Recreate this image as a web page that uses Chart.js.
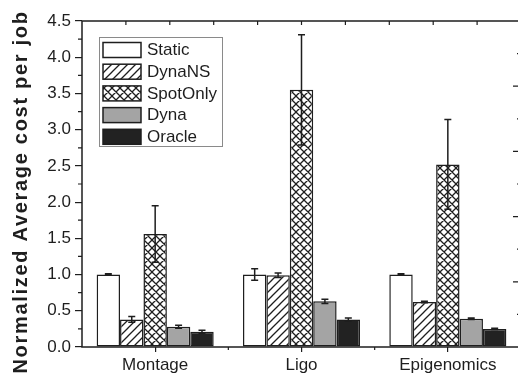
<!DOCTYPE html>
<html>
<head>
<meta charset="utf-8">
<script src="https://cdn.jsdelivr.net/npm/chart.js@4.4.1/dist/chart.umd.min.js"></script>
<style>
    html, body { margin: 0; padding: 0; background: #fff; overflow: hidden; }
    #wrap { width: 524px; height: 379px; position: relative; }
</style>
</head>
<body>
<div id="wrap"><canvas id="costChart"></canvas></div>
<script>
// Workflows and normalized cost values
const categories = ['Montage', 'Ligo', 'Epigenomics'];
const staticCost = [1.0, 1.0, 1.0];
const staticErr = [0.01, 0.08, 0.01];
const dynaNSCost = [0.38, 0.99, 0.62];
const dynaNSErr = [0.04, 0.03, 0.01];
const spotOnlyCost = [1.56, 3.55, 2.52];
const spotOnlyErr = [0.39, 0.76, 0.62];
const dynaCost = [0.28, 0.63, 0.39];
const dynaErr = [0.02, 0.03, 0.01];
const oracleCost = [0.21, 0.38, 0.25];
const oracleErr = [0.02, 0.02, 0.01];
const yTicks = [0, 0.5, 1.0, 1.5, 2.0, 2.5, 3.0, 3.5, 4.0, 4.5];

const INK = '#1e1e1e';

// Build a repeating hatch fill (single diagonal or cross)
function makeHatch(cross) {
    const size = 8;
    const c = document.createElement('canvas');
    c.width = size;
    c.height = size;
    const g = c.getContext('2d');
    g.fillStyle = '#fff';
    g.fillRect(0, 0, size, size);
    g.strokeStyle = INK;
    g.lineWidth = 1.3;
    g.beginPath();
    // "/" lines
    g.moveTo(-1, size + 1); g.lineTo(size + 1, -1);
    g.moveTo(-1, 1); g.lineTo(1, -1);
    g.moveTo(size - 1, size + 1); g.lineTo(size + 1, size - 1);
    if (cross) {
        // "\" lines
        g.moveTo(-1, -1); g.lineTo(size + 1, size + 1);
        g.moveTo(size - 1, -1); g.lineTo(size + 1, 1);
        g.moveTo(-1, size - 1); g.lineTo(1, size + 1);
    }
    g.stroke();
    return g.createPattern(c, 'repeat');
}

const diagFill = makeHatch(false);
const crossFill = makeHatch(true);

// Error bars with caps
const errorBars = {
    id: 'errorBars',
    afterDatasetsDraw(chart) {
        const ctx = chart.ctx;
        const y = chart.scales.y;
        ctx.save();
        ctx.strokeStyle = INK;
        ctx.lineWidth = 1.5;
        chart.data.datasets.forEach((ds, di) => {
            const meta = chart.getDatasetMeta(di);
            meta.data.forEach((bar, i) => {
                const v = ds.data[i], e = ds.errors[i];
                const yTop = y.getPixelForValue(v + e);
                const yBot = y.getPixelForValue(v - e);
                ctx.beginPath();
                ctx.moveTo(bar.x, yTop); ctx.lineTo(bar.x, yBot);
                ctx.moveTo(bar.x - 3.5, yTop); ctx.lineTo(bar.x + 3.5, yTop);
                ctx.moveTo(bar.x - 3.5, yBot); ctx.lineTo(bar.x + 3.5, yBot);
                ctx.stroke();
            });
        });
        ctx.restore();
    }
};

// Frame, minor ticks, and the inward ticks on the top and right edges
const frame = {
    id: 'frame',
    afterDraw(chart) {
        const ctx = chart.ctx;
        const a = chart.chartArea;
        const y = chart.scales.y;
        const x = chart.scales.x;
        ctx.save();
        ctx.strokeStyle = INK;
        ctx.lineWidth = 1.5;
        ctx.strokeRect(a.left, a.top, a.right - a.left, a.bottom - a.top);
        ctx.lineWidth = 1.2;
        ctx.beginPath();
        // minor y ticks
        for (let i = 0; i < yTicks.length - 1; i++) {
            const py = y.getPixelForValue((yTicks[i] + yTicks[i + 1]) / 2);
            ctx.moveTo(a.left - 4, py); ctx.lineTo(a.left, py);
        }
        // boundary ticks between categories
        for (let i = 0; i < categories.length - 1; i++) {
            const px = (x.getPixelForValue(i) + x.getPixelForValue(i + 1)) / 2;
            ctx.moveTo(px, a.bottom); ctx.lineTo(px, a.bottom + 3);
        }
        // top edge ticks
        const w = (a.right - a.left) / 10;
        for (let i = 1; i < 10; i++) {
            const px = a.left + i * w;
            ctx.moveTo(px, a.top); ctx.lineTo(px, a.top + 4);
        }
        // right edge ticks
        const h = (a.bottom - a.top) / 10;
        for (let i = 1; i < 10; i++) {
            const py = a.top + i * h;
            const len = i % 2 === 0 ? 8 : 4;
            ctx.moveTo(a.right, py); ctx.lineTo(a.right - len, py);
        }
        ctx.stroke();

        // axis title
        ctx.translate(21, (a.top + a.bottom) / 2 + 8);
        ctx.rotate(-Math.PI / 2);
        ctx.fillStyle = INK;
        ctx.font = 'bold 20px "Liberation Sans", Arial, sans-serif';
        ctx.letterSpacing = '1.7px';
        ctx.textAlign = 'center';
        ctx.textBaseline = 'middle';
        ctx.fillText('Normalized Average cost per job', 0, 0);
        ctx.restore();
    }
};

// Legend box drawn inside the plot area
const boxLegend = {
    id: 'boxLegend',
    afterDraw(chart) {
        const ctx = chart.ctx;
        const a = chart.chartArea;
        const bx = a.left + 17, by = a.top + 16;
        const bw = 123, bh = 109;
        ctx.save();
        ctx.fillStyle = '#fff';
        ctx.fillRect(bx, by, bw, bh);
        ctx.strokeStyle = '#8a8a8a';
        ctx.lineWidth = 1;
        ctx.strokeRect(bx + 0.5, by + 0.5, bw, bh);
        ctx.font = '17px "Liberation Sans", Arial, sans-serif';
        ctx.textBaseline = 'middle';
        chart.data.datasets.forEach((ds, i) => {
            const sy = by + 5.5 + i * 21.7;
            ctx.fillStyle = ds.backgroundColor;
            ctx.fillRect(bx + 4, sy, 38, 15);
            ctx.strokeStyle = INK;
            ctx.lineWidth = 1.5;
            ctx.strokeRect(bx + 4, sy, 38, 15);
            ctx.fillStyle = INK;
            ctx.fillText(ds.label, bx + 48, sy + 8);
        });
        ctx.restore();
    }
};

function series(label, data, errors, fill) {
    return {
        label: label,
        data: data,
        errors: errors,
        backgroundColor: fill,
        borderColor: INK,
        borderWidth: 1.5,
        borderSkipped: false
    };
}

new Chart(document.getElementById('costChart').getContext('2d'), {
    type: 'bar',
    data: {
        labels: categories,
        datasets: [
            series('Static', staticCost, staticErr, '#ffffff'),
            series('DynaNS', dynaNSCost, dynaNSErr, diagFill),
            series('SpotOnly', spotOnlyCost, spotOnlyErr, crossFill),
            series('Dyna', dynaCost, dynaErr, '#a4a4a4'),
            series('Oracle', oracleCost, oracleErr, '#222222')
        ]
    },
    options: {
        responsive: true,
        maintainAspectRatio: false,
        animation: false,
        devicePixelRatio: 1,
        layout: { padding: { top: 21, right: 3, left: 0, bottom: 0 } },
        plugins: {
            legend: { display: false },
            tooltip: { enabled: false }
        },
        datasets: {
            bar: { categoryPercentage: 0.8, barPercentage: 1.0 }
        },
        scales: {
            x: {
                offset: true,
                grid: { offset: false, drawOnChartArea: false, tickLength: 5, color: INK, lineWidth: 1.2 },
                border: { display: false },
                ticks: {
                    color: INK,
                    padding: 3,
                    font: { family: '"Liberation Sans", Arial, sans-serif', size: 17 }
                },
                afterFit(scale) { scale.height = 32; }
            },
            y: {
                min: 0,
                max: 4.5,
                grid: { drawOnChartArea: false, tickLength: 7, color: INK, lineWidth: 1.2 },
                border: { display: false },
                ticks: {
                    stepSize: 0.5,
                    color: INK,
                    padding: 4,
                    font: { family: '"Liberation Sans", Arial, sans-serif', size: 17 },
                    callback: v => v.toFixed(1)
                },
                afterFit(scale) { scale.width = 82; }
            }
        }
    },
    plugins: [errorBars, frame, boxLegend]
});
</script>
</body>
</html>
